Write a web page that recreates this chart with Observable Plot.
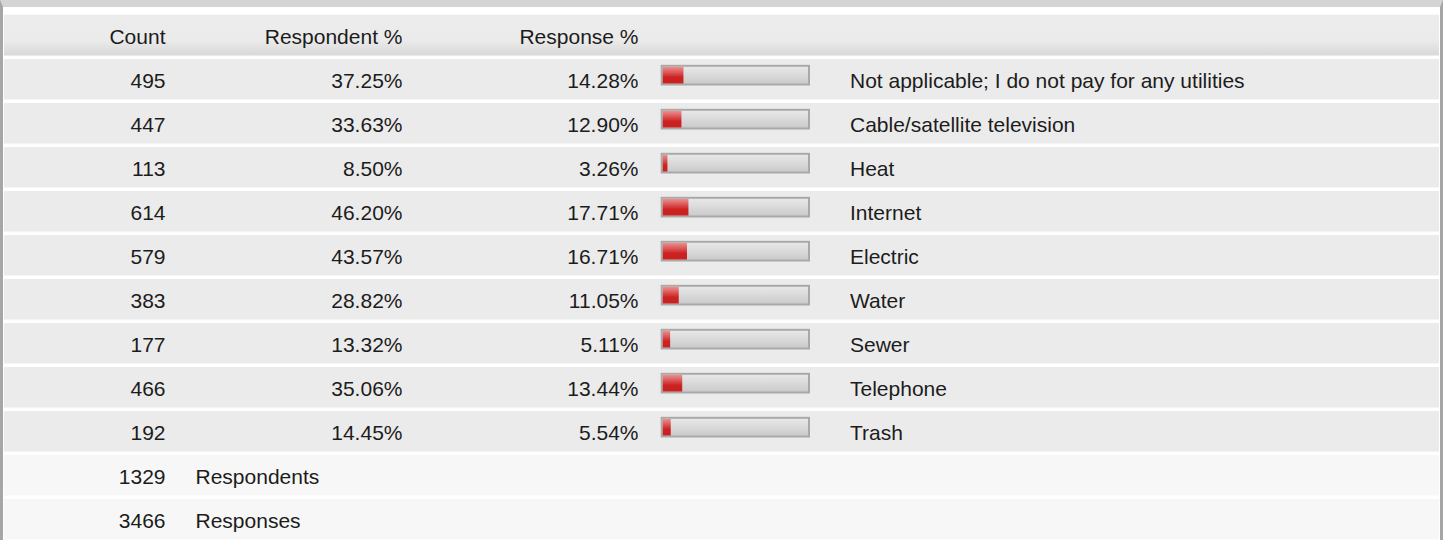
<!DOCTYPE html>
<html>
<head>
<meta charset="utf-8">
<script src="https://cdn.jsdelivr.net/npm/d3@7"></script>
<script src="https://cdn.jsdelivr.net/npm/@observablehq/plot@0.6"></script>
<style>
  html, body { margin: 0; padding: 0; background: #fff; }
  #wrap {
    width: 1437px;
    border-left: 3px solid #a6a6a6;
    border-right: 3px solid #a6a6a6;
    border-top: 7px solid #d4d4d4;
  }
  #wrap svg { display: block; }
</style>
</head>
<body>
<div id="wrap"></div>
<script>
// ---- data ----
const headers = ["Count", "Respondent %", "Response %"];
const categories = [
  "Not applicable; I do not pay for any utilities",
  "Cable/satellite television",
  "Heat",
  "Internet",
  "Electric",
  "Water",
  "Sewer",
  "Telephone",
  "Trash"
];
const counts = [495, 447, 113, 614, 579, 383, 177, 466, 192];
const respondentPct = [37.25, 33.63, 8.50, 46.20, 43.57, 28.82, 13.32, 35.06, 14.45];
const responsePct = [14.28, 12.90, 3.26, 17.71, 16.71, 11.05, 5.11, 13.44, 5.54];
const summaryLabels = ["Respondents", "Responses"];
const summaryValues = [1329, 3466];

// ---- tables built from the arrays ----
const table = categories.map((c, i) => ({
  key: c, label: c, count: counts[i], rp: respondentPct[i], sp: responsePct[i]
}));
const summary = summaryLabels.map((s, i) => ({ key: s, label: s, value: summaryValues[i] }));
const rowKeys = ["__header", ...categories, ...summaryLabels];
const fmt = v => v.toFixed(2) + "%";

const textStyle = { fill: "#1c1c1c", fontSize: 21, dy: 0.8 };

const svg = Plot.plot({
  width: 1437,
  height: 533,
  margin: 0,
  x: { domain: [0, 100], range: [659.7, 805], axis: null },
  y: { type: "band", domain: rowKeys, range: [3.0, 538.2], padding: 0, axis: null },
  style: {
    fontFamily: "'Liberation Sans', Arial, Helvetica, sans-serif",
    fontSize: "21px",
    background: "#fff",
    overflow: "hidden"
  },
  marks: [
    // row backgrounds
    Plot.cell(["__header"], { y: d => d, fill: "url(#hdrGrad)", insetTop: 0.7, insetBottom: 2.5, insetLeft: 1, insetRight: 1 }),
    Plot.cell(table, { y: "key", fill: "#ebebeb", insetTop: 1, insetBottom: 2.5, insetLeft: 1, insetRight: 1 }),
    Plot.cell(summary, { y: "key", fill: "#f7f7f7", insetTop: 1, insetBottom: 2.5, insetLeft: 1, insetRight: 1 }),

    // header texts
    Plot.text([headers[0]], { y: () => "__header", text: d => d, frameAnchor: "left", textAnchor: "end", dx: 162, ...textStyle }),
    Plot.text([headers[1]], { y: () => "__header", text: d => d, frameAnchor: "left", textAnchor: "end", dx: 399, ...textStyle }),
    Plot.text([headers[2]], { y: () => "__header", text: d => d, frameAnchor: "left", textAnchor: "end", dx: 635, ...textStyle }),

    // value columns
    Plot.text(table, { y: "key", text: d => String(d.count), frameAnchor: "left", textAnchor: "end", dx: 162, ...textStyle }),
    Plot.text(table, { y: "key", text: d => fmt(d.rp), frameAnchor: "left", textAnchor: "end", dx: 399, ...textStyle }),
    Plot.text(table, { y: "key", text: d => fmt(d.sp), frameAnchor: "left", textAnchor: "end", dx: 635, ...textStyle }),
    Plot.text(table, { y: "key", text: "label", frameAnchor: "left", textAnchor: "start", dx: 846.5, ...textStyle }),

    // bars: border, track, value
    Plot.barX(table, { x1: 0, x2: 100, y: "key", fill: "#a9a9a9", insetLeft: -2, insetRight: -2, insetTop: 6.8, insetBottom: 16.5 }),
    Plot.barX(table, { x1: 0, x2: 100, y: "key", fill: "url(#trackGrad)", insetTop: 8.8, insetBottom: 18.5 }),
    Plot.barX(table, { x1: 0, x2: "sp", y: "key", fill: "url(#redGrad)", insetTop: 8.8, insetBottom: 18.5 }),

    // summary rows
    Plot.text(summary, { y: "key", text: d => String(d.value), frameAnchor: "left", textAnchor: "end", dx: 162, ...textStyle }),
    Plot.text(summary, { y: "key", text: "label", frameAnchor: "left", textAnchor: "start", dx: 192, ...textStyle })
  ]
});

// gradients
const ns = "http://www.w3.org/2000/svg";
const defs = document.createElementNS(ns, "defs");
function grad(id, stops) {
  const g = document.createElementNS(ns, "linearGradient");
  g.setAttribute("id", id);
  g.setAttribute("x1", "0"); g.setAttribute("y1", "0");
  g.setAttribute("x2", "0"); g.setAttribute("y2", "1");
  for (const [o, c] of stops) {
    const s = document.createElementNS(ns, "stop");
    s.setAttribute("offset", o);
    s.setAttribute("stop-color", c);
    g.appendChild(s);
  }
  defs.appendChild(g);
}
grad("hdrGrad", [["0", "#ececec"], ["0.62", "#ebebeb"], ["1", "#d8d8d8"]]);
grad("trackGrad", [["0", "#e8e8e8"], ["1", "#cbcbcb"]]);
grad("redGrad", [["0", "#ec9090"], ["0.5", "#d33a3a"], ["0.62", "#cc2222"], ["1", "#cb2020"]]);
svg.insertBefore(defs, svg.firstChild);

document.getElementById("wrap").appendChild(svg);
</script>
</body>
</html>
